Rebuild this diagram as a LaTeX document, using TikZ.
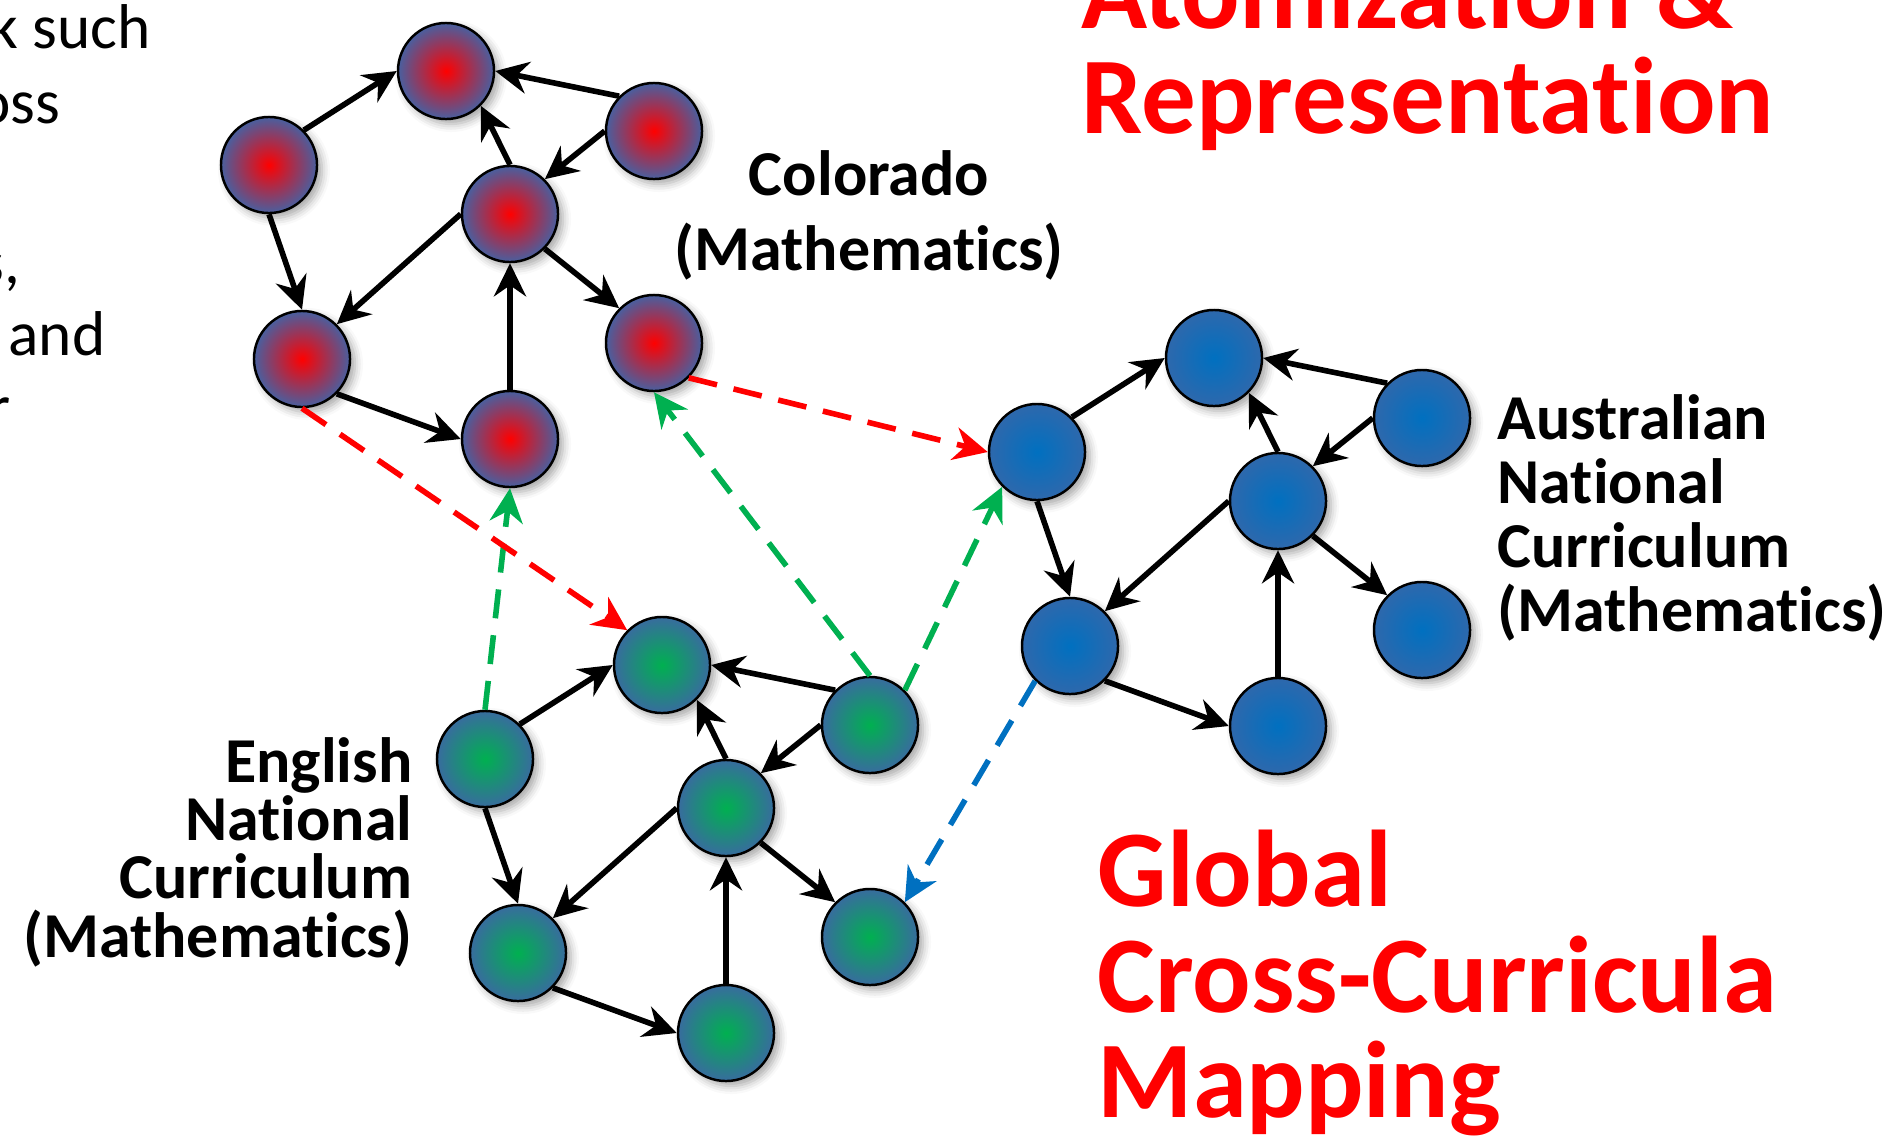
\documentclass[tikz,border=0pt]{standalone}
\usepackage{fontspec}
\setmainfont{Carlito}[Ligatures=NoCommon]
\usetikzlibrary{arrows.meta,shadows.blur}

\definecolor{redc}{RGB}{255,0,0}
\definecolor{redrim}{RGB}{72,96,160}
\definecolor{grnc}{RGB}{0,176,80}
\definecolor{grnrim}{RGB}{56,108,158}
\definecolor{bluc}{RGB}{0,112,192}
\definecolor{blurim}{RGB}{46,104,172}
\definecolor{dgreen}{RGB}{0,176,80}
\definecolor{dblue}{RGB}{0,112,192}

\tikzset{
  ball/.style={circle, draw=black, line width=0.7pt, minimum size=0.96cm, inner sep=0pt,
    blur shadow={shadow xshift=0.05cm, shadow yshift=-0.05cm, shadow blur radius=0.08cm, shadow opacity=35}},
  redball/.style={ball, inner color=redc, outer color=redrim},
  grnball/.style={ball, inner color=grnc, outer color=grnrim},
  bluball/.style={ball, inner color=bluc, outer color=blurim},
  link/.style={line width=0.056cm, -{Stealth[length=0.33cm,width=0.32cm,inset=0.11cm]}},
  xlink/.style={line width=0.056cm, dash pattern=on 0.29cm off 0.17cm, -{Stealth[length=0.34cm,width=0.33cm,inset=0.11cm]}},
  lbl/.style={font=\fontsize{18.2}{20}\selectfont\bfseries, inner sep=0pt},
  ttl/.style={font=\fontsize{31}{33}\selectfont\bfseries, text=redc, inner sep=0pt},
  body/.style={font=\fontsize{18}{20}\selectfont, inner sep=0pt},
}

% #1 name prefix, #2 x, #3 y of the middle node, #4 node style
\newcommand\curgraph[4]{%
  \begin{scope}[shift={(#2,#3)}]
    \node[#4] (#1a) at (-64,-143) {};
    \node[#4] (#1b) at (-241,-49) {};
    \node[#4] (#1c) at (144,-83) {};
    \node[#4] (#1d) at (0,0) {};
    \node[#4] (#1e) at (-208,145) {};
    \node[#4] (#1f) at (144,129) {};
    \node[#4] (#1g) at (0,225) {};
    \draw[link] (#1b.north east) -- (#1a.west);
    \draw[link] (#1c.north west) -- (#1a.east);
    \draw[link] (#1d.north) -- (#1a.south east);
    \draw[link] (#1c.west) -- (#1d.north east);
    \draw[link] (#1b.south) -- (#1e.north);
    \draw[link] (#1d.west) -- (#1e.north east);
    \draw[link] (#1d.south east) -- (#1f.north west);
    \draw[link] (#1g.north) -- (#1d.south);
    \draw[link] (#1e.south east) -- (#1g.west);
  \end{scope}}

\begin{document}
\begin{tikzpicture}[x=0.01cm, y=-0.01cm]
  \useasboundingbox (0,0) rectangle (1889,1136);
  \clip (0,0) rectangle (1889,1136);

  % cut-off body text at the left edge
  \node[body, anchor=base east] (t1) at (151,48) {k such};
  \node[body, anchor=base east] (t2) at (61,123) {oss};
  \node[body, anchor=base east] (t3) at (21,283) {s,};
  \node[body, anchor=base east] (t4) at (106,355) {and};
  \node[body, anchor=base east] (t5) at (11,428) {r};

  % titles
  \node[ttl, anchor=base west] (h1) at (1081,28) {Atomization \&};
  \node[ttl, anchor=base west] (h2) at (1081,133) {Representation};
  \node[ttl, anchor=base west] (g1) at (1097,906) {Global};
  \node[ttl, anchor=base west] (g2) at (1097,1012) {Cross-Curricula};
  \node[ttl, anchor=base west] (g3) at (1097,1117) {Mapping};

  % graphs
  \curgraph{R}{510}{214}{redball}
  \curgraph{B}{1278}{501}{bluball}
  \curgraph{G}{726}{808}{grnball}

  % labels
  \node[lbl, anchor=base] (co1) at (869,195) {Colorado};
  \node[lbl, anchor=base] (co2) at (869,270) {(Mathematics)};
  \node[lbl, anchor=base west] (au1) at (1497,439) {Australian};
  \node[lbl, anchor=base west] (au2) at (1497,503) {National};
  \node[lbl, anchor=base west] (au3) at (1497,567) {Curriculum};
  \node[lbl, anchor=base west] (au4) at (1497,631) {(Mathematics)};
  \node[lbl, anchor=base east] (en1) at (413,782) {English};
  \node[lbl, anchor=base east] (en2) at (413,840) {National};
  \node[lbl, anchor=base east] (en3) at (413,898) {Curriculum};
  \node[lbl, anchor=base east] (en4) at (413,957) {(Mathematics)};

  % cross-curricula mappings
  \draw[xlink, dgreen] (Gb.north) -- (Rg.south);
  \draw[xlink, redc] (Re.south) -- (Ga.north west);
  \draw[xlink, redc] (Rf.south east) -- (Bb.west);
  \draw[xlink, dgreen] (Gc.north) -- (Rf.south);
  \draw[xlink, dgreen] (Gc.north east) -- (Bb.south west);
  \draw[xlink, dblue] (Be.south west) -- (Gf.north east);
\end{tikzpicture}
\end{document}
